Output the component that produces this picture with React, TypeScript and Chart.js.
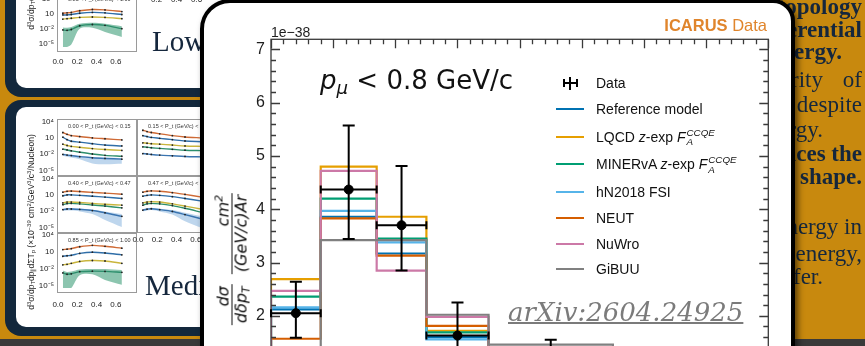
import React, { useEffect, useRef } from "react";
import { Chart, registerables } from "chart.js";

Chart.register(...registerables);

// ---------------- Main chart data ----------------
const binEdges = [0, 0.08, 0.17, 0.25, 0.35, 0.55, 0.8];
const binCenters = [0.04, 0.125, 0.21, 0.3, 0.45, 0.675];
const dataValues = [2.05, 4.37, 3.7, 1.63, 1.12, 0.55];
const dataErrLow = [1.59, 3.44, 2.85, 1.02, 0.7, 0.3];
const dataErrHigh = [2.64, 5.57, 4.81, 2.25, 1.55, 0.8];

const referenceModel = [2.12, 3.86, 3.17, 1.6, 1.22, 0.5];
const lqcdZexp = [2.69, 4.8, 3.86, 1.72, 1.3, 0.52];
const minervaZexp = [2.36, 4.2, 3.45, 1.69, 1.28, 0.5];
const hN2018Fsi = [2.16, 3.97, 3.38, 1.56, 1.2, 0.48];
const neut = [1.57, 3.83, 3.13, 1.81, 1.35, 0.55];
const nuwro = [2.47, 4.72, 2.85, 1.98, 1.36, 0.56];
const gibuu = [1.3, 3.42, 3.42, 2.02, 1.46, 0.6];

const modelNames = [
  "Reference model",
  "LQCD z-exp F_A^CCQE",
  "MINERvA z-exp F_A^CCQE",
  "hN2018 FSI",
  "NEUT",
  "NuWro",
  "GiBUU",
];
const modelSeries = [referenceModel, lqcdZexp, minervaZexp, hN2018Fsi, neut, nuwro, gibuu];

const yTickValues = [0, 1, 2, 3, 4, 5, 6, 7];
const xTickValues = [0, 0.1, 0.2, 0.3, 0.4, 0.5, 0.6, 0.7, 0.8];

// ---------------- Thumbnail data (log10 units) ----------------
const thumbX = [0, 0.05, 0.1, 0.2, 0.35, 0.5, 0.7];
const thumbYTicks = [4, 1, -2, -5];
const thumbYTickLabels = ["10⁴", "10", "10⁻²", "10⁻⁵"];
const thumbXTicks = [0, 0.2, 0.4, 0.6];
const thumbXTickLabels = ["0.0", "0.2", "0.4", "0.6"];

const thumbA = [
  [1.5, 1.6, 1.7, 2.1, 2.4, 2.3, 1.9],
  [1.1, 1.1, 1.2, 1.5, 1.7, 1.6, 1.2],
  [0.1, 0.2, 0.3, 0.5, 0.6, 0.5, 0.2],
  [-2.5, -2.6, -2.4, -1.5, -1.2, -1.4, -2.2],
];
const thumbABandUpper = [-1.9, -2.0, -1.8, -1.0, -0.8, -1.0, -1.6];
const thumbABandLower = [-6.6, -6.6, -6.0, -2.2, -2.0, -3.0, -4.2];

const thumbB1 = [
  [2.6, 2.2, 1.9, 1.7, 1.4, 1.2, 0.95],
  [1.55, 1.0, 0.65, 0.45, 0.1, -0.2, -0.4],
  [0.0, -0.3, -0.5, -0.7, -1.0, -1.2, -1.4],
  [-1.1, -1.3, -1.5, -1.8, -2.2, -2.5, -2.7],
  [-2.3, -2.45, -2.55, -2.8, -3.05, -3.2, -3.35],
];
const thumbB1BandUpper = [-2.1, -2.25, -2.35, -2.6, -2.85, -3.0, -3.15];
const thumbB1BandLower = [-2.6, -2.8, -3.0, -3.4, -4.3, -4.5, -4.4];

const thumbB2 = [
  [3.1, 2.8, 2.6, 2.3, 1.9, 1.6, 1.4],
  [1.9, 1.7, 1.5, 1.3, 1.0, 0.7, 0.55],
  [0.3, 0.2, 0.1, 0.0, -0.2, -0.4, -0.5],
  [-0.6, -0.7, -0.8, -0.95, -1.15, -1.35, -1.45],
  [-2.1, -2.2, -2.3, -2.45, -2.6, -2.75, -2.85],
];

const thumbB3 = [
  [2.0, 2.2, 2.25, 2.15, 1.95, 1.8, 1.55],
  [1.2, 1.4, 1.4, 1.3, 1.1, 0.9, 0.6],
  [-0.4, -0.2, -0.2, -0.3, -0.5, -0.7, -0.9],
  [-0.8, -0.55, -0.5, -0.6, -0.85, -1.1, -1.5],
  [-1.9, -1.75, -1.75, -1.85, -2.1, -2.6, -3.4],
];
const thumbB3BandUpper = [-1.7, -1.55, -1.55, -1.65, -1.9, -2.3, -2.9];
const thumbB3BandLower = [-2.2, -2.1, -2.1, -2.3, -2.9, -4.2, -5.8];

const thumbB4 = [
  [2.0, 2.2, 2.3, 2.2, 1.9, 1.5, 0.9],
  [1.1, 1.3, 1.4, 1.3, 1.0, 0.6, 0.0],
  [-0.4, -0.2, -0.1, -0.2, -0.6, -1.1, -1.8],
  [-0.9, -0.6, -0.5, -0.6, -1.0, -1.6, -2.5],
  [-2.0, -1.8, -1.7, -1.9, -2.3, -3.0, -4.0],
];
const thumbB4BandUpper = [-1.8, -1.6, -1.5, -1.7, -2.0, -2.6, -3.4];
const thumbB4BandLower = [-2.3, -2.1, -2.0, -2.3, -3.0, -4.5, -6.0];

const thumbB5 = [
  [1.9, 2.0, 2.1, 2.5, 2.8, 2.6, 2.2],
  [0.5, 0.6, 0.7, 1.1, 1.35, 1.2, 0.8],
  [-1.3, -1.2, -1.0, -0.6, -0.4, -0.5, -1.0],
  [-3.0, -3.3, -3.2, -2.75, -2.65, -2.7, -2.9],
];
const thumbB5BandUpper = [-2.5, -2.8, -2.7, -2.3, -2.2, -2.2, -2.4];
const thumbB5BandLower = [-6.2, -6.2, -6.2, -3.5, -3.3, -4.5, -5.5];

// ---------------- Styles ----------------
const NAVY = "#13283c";
const ORANGE = "#c8890e";
const TEXT_NAVY = "#15273d";
const modelColors = ["#0072b2", "#e69f00", "#009e73", "#56b4e9", "#d55e00", "#cc79a7", "#808080"];
const thumbColors = ["#cf6a35", "#2f6ea8", "#c9b53c", "#2d8f6c", "#3a74b0"];
const BLUE_BAND = "rgba(110,165,215,0.45)";
const GREEN_BAND = "rgba(45,150,110,0.55)";

// chart area geometry (page pixels)
const CANVAS_W = 865;
const CANVAS_H = 480;
const AREA_LEFT = 271;
const AREA_TOP = 39.3;
const AREA_RIGHT = 768.3;
const AREA_BOTTOM = 422.4;
const Y_AXIS_W = 40;

const frameTicksPlugin = {
  id: "frameTicks",
  afterDatasetsDraw(chart: any) {
    const { ctx, chartArea: a } = chart;
    const xs = chart.scales.x;
    const ys = chart.scales.y;
    ctx.save();
    ctx.strokeStyle = "#3a3a3a";
    ctx.lineWidth = 1.3;
    ctx.strokeRect(a.left, a.top, a.right - a.left, a.bottom - a.top);
    ctx.beginPath();
    yTickValues.forEach((v0) => {
      for (let k = 0; k < 5; k++) {
        const v = v0 + k * 0.2;
        if (v > ys.max + 1e-9) break;
        const py = Math.round(ys.getPixelForValue(v)) + 0.5;
        const len = k === 0 ? 9 : 5;
        ctx.moveTo(a.left, py);
        ctx.lineTo(a.left + len, py);
        ctx.moveTo(a.right, py);
        ctx.lineTo(a.right - len, py);
      }
    });
    xTickValues.forEach((v0) => {
      for (let k = 0; k < 5; k++) {
        const v = v0 + k * 0.02;
        if (v > xs.max + 1e-9) break;
        const px = Math.round(xs.getPixelForValue(v)) + 0.5;
        const len = k === 0 ? 9 : 5;
        ctx.moveTo(px, a.top);
        ctx.lineTo(px, a.top + len);
        ctx.moveTo(px, a.bottom);
        ctx.lineTo(px, a.bottom - len);
      }
    });
    ctx.stroke();
    ctx.restore();
  },
};

const errorBarPlugin = {
  id: "errorBars",
  afterDatasetsDraw(chart: any) {
    const { ctx } = chart;
    const xs = chart.scales.x;
    const ys = chart.scales.y;
    ctx.save();
    ctx.strokeStyle = "#000";
    ctx.lineWidth = 2;
    ctx.beginPath();
    dataValues.forEach((v, i) => {
      const px = xs.getPixelForValue(binCenters[i]);
      const xl = xs.getPixelForValue(binEdges[i]);
      const xr = xs.getPixelForValue(binEdges[i + 1]);
      const py = ys.getPixelForValue(v);
      const pl = ys.getPixelForValue(dataErrLow[i]);
      const ph = ys.getPixelForValue(dataErrHigh[i]);
      ctx.moveTo(xl, py);
      ctx.lineTo(xr, py);
      ctx.moveTo(px, ph);
      ctx.lineTo(px, pl);
      ctx.moveTo(px - 6, ph);
      ctx.lineTo(px + 6, ph);
      ctx.moveTo(px - 6, pl);
      ctx.lineTo(px + 6, pl);
      ctx.moveTo(xl, py - 4);
      ctx.lineTo(xl, py + 4);
      ctx.moveTo(xr, py - 4);
      ctx.lineTo(xr, py + 4);
    });
    ctx.stroke();
    ctx.restore();
  },
};

function stepPoints(vals: number[]) {
  const pts: { x: number; y: number }[] = [{ x: binEdges[0], y: 0 }];
  vals.forEach((v, i) => pts.push({ x: binEdges[i], y: v }));
  pts.push({ x: binEdges[binEdges.length - 1], y: vals[vals.length - 1] });
  pts.push({ x: binEdges[binEdges.length - 1], y: 0 });
  return pts;
}

function MainChart() {
  const ref = useRef<HTMLCanvasElement | null>(null);
  useEffect(() => {
    if (!ref.current) return;
    const datasets: any[] = [
      {
        type: "scatter",
        label: "Data",
        data: binCenters.map((x, i) => ({ x, y: dataValues[i] })),
        pointRadius: 4.5,
        pointBackgroundColor: "#000",
        pointBorderColor: "#000",
        showLine: false,
        order: 0,
      },
    ];
    modelSeries.forEach((vals, i) => {
      datasets.push({
        type: "line",
        label: modelNames[i],
        data: stepPoints(vals),
        stepped: "before",
        borderColor: modelColors[i],
        borderWidth: 2.2,
        pointRadius: 0,
        fill: false,
        order: modelSeries.length - i,
      });
    });
    const chart = new Chart(ref.current, {
      type: "line",
      data: { datasets },
      options: {
        responsive: false,
        animation: false,
        devicePixelRatio: 1,
        layout: {
          padding: {
            left: AREA_LEFT - Y_AXIS_W,
            top: AREA_TOP,
            right: CANVAS_W - AREA_RIGHT,
            bottom: CANVAS_H - AREA_BOTTOM,
          },
        },
        plugins: { legend: { display: false }, tooltip: { enabled: false } },
        scales: {
          x: { type: "linear", min: 0, max: 0.8, display: false },
          y: {
            type: "linear",
            min: 0,
            max: 7.19,
            afterFit: (s: any) => {
              s.width = Y_AXIS_W;
            },
            afterBuildTicks: (s: any) => {
              s.ticks = yTickValues.map((v) => ({ value: v }));
            },
            grid: { display: false, drawTicks: false },
            border: { display: false },
            ticks: {
              padding: 6,
              color: "#1e1e1e",
              font: { family: "Liberation Sans", size: 16 },
            },
          },
        },
      } as any,
      plugins: [frameTicksPlugin, errorBarPlugin],
    });
    return () => chart.destroy();
  }, []);
  return (
    <canvas
      ref={ref}
      width={CANVAS_W}
      height={CANVAS_H}
      style={{ position: "absolute", left: 0, top: 0, zIndex: 2 }}
    />
  );
}

type ThumbSpec = {
  left: number;
  top: number;
  w: number;
  h: number;
  yMin: number;
  yMax: number;
  lines: number[][];
  bands?: { upper: number[]; lower: number[]; color: string }[];
  title: string;
  yLabels?: boolean;
  xLabelsDy?: number;
};

const X_MIN = -0.01;
const X_MAX = 0.82;

function MiniChart({ spec }: { spec: ThumbSpec }) {
  const ref = useRef<HTMLCanvasElement | null>(null);
  useEffect(() => {
    if (!ref.current) return;
    const datasets: any[] = [];
    (spec.bands || []).forEach((b) => {
      datasets.push({
        data: thumbX.map((x, i) => ({ x, y: b.upper[i] })),
        borderWidth: 0,
        pointRadius: 0,
        fill: "+1",
        backgroundColor: b.color,
        tension: 0.3,
        order: 10,
      });
      datasets.push({
        data: thumbX.map((x, i) => ({ x, y: b.lower[i] })),
        borderWidth: 0,
        pointRadius: 0,
        fill: false,
        tension: 0.3,
        order: 10,
      });
    });
    spec.lines.forEach((ln, i) => {
      datasets.push({
        data: thumbX.map((x, j) => ({ x, y: ln[j] })),
        borderColor: thumbColors[i],
        borderWidth: 1.4,
        pointRadius: 0.9,
        pointBorderWidth: 0,
        pointBackgroundColor: "#222",
        tension: 0.3,
        fill: false,
        order: 1,
      });
    });
    const chart = new Chart(ref.current, {
      type: "line",
      data: { datasets },
      options: {
        responsive: false,
        animation: false,
        devicePixelRatio: 1,
        layout: { padding: 0 },
        plugins: { legend: { display: false }, tooltip: { enabled: false } },
        scales: {
          x: { type: "linear", min: X_MIN, max: X_MAX, display: false },
          y: { type: "linear", min: spec.yMin, max: spec.yMax, display: false },
        },
      } as any,
    });
    return () => chart.destroy();
  }, []);
  return (
    <div
      style={{
        position: "absolute",
        left: spec.left,
        top: spec.top,
        width: spec.w,
        height: spec.h,
        boxSizing: "border-box",
        border: "1px solid #9a9a9a",
        background: "#fff",
        overflow: "hidden",
      }}
    >
      <canvas ref={ref} width={spec.w - 2} height={spec.h - 2} style={{ display: "block" }} />
      <div
        style={{
          position: "absolute",
          left: 10,
          top: 6,
          fontSize: 5.5,
          lineHeight: 0,
          whiteSpace: "nowrap",
          color: "#333",
          fontFamily: "Liberation Sans",
        }}
      >
        {spec.title}
      </div>
    </div>
  );
}

function ThumbLabels({ spec }: { spec: ThumbSpec }) {
  const out: React.ReactNode[] = [];
  if (spec.yLabels) {
    thumbYTicks.forEach((v, i) => {
      const y = spec.top + ((spec.yMax - v) / (spec.yMax - spec.yMin)) * spec.h;
      out.push(
        <div
          key={"y" + i}
          style={{
            position: "absolute",
            right: 865 - (spec.left - 3),
            top: y,
            fontSize: 8,
            lineHeight: 0,
            fontFamily: "Liberation Sans",
            color: "#222",
            whiteSpace: "nowrap",
          }}
        >
          {thumbYTickLabels[i]}
        </div>
      );
    });
  }
  if (spec.xLabelsDy !== undefined) {
    thumbXTicks.forEach((v, i) => {
      const x = spec.left + ((v - X_MIN) / (X_MAX - X_MIN)) * spec.w;
      out.push(
        <div
          key={"x" + i}
          style={{
            position: "absolute",
            left: x,
            top: spec.top + spec.h + (spec.xLabelsDy as number),
            transform: "translateX(-50%)",
            fontSize: 8,
            lineHeight: 0,
            fontFamily: "Liberation Sans",
            color: "#222",
            whiteSpace: "nowrap",
          }}
        >
          {thumbXTickLabels[i]}
        </div>
      );
    });
  }
  return <>{out}</>;
}

const thumbs: ThumbSpec[] = [
  {
    left: 57, top: -8, w: 80, h: 60, yMin: -6.6, yMax: 5.4, lines: thumbA,
    bands: [{ upper: thumbABandUpper, lower: thumbABandLower, color: GREEN_BAND }],
    title: "0.85 < P_t (GeV/c) < 1.00", yLabels: true, xLabelsDy: 10,
  },
  {
    left: 57, top: 119, w: 80, h: 57, yMin: -6, yMax: 4.5, lines: thumbB1,
    bands: [{ upper: thumbB1BandUpper, lower: thumbB1BandLower, color: BLUE_BAND }],
    title: "0.00 < P_t (GeV/c) < 0.15", yLabels: true,
  },
  {
    left: 137, top: 119, w: 80, h: 57, yMin: -6, yMax: 4.5, lines: thumbB2,
    title: "0.15 < P_t (GeV/c) < 0.22",
  },
  {
    left: 57, top: 176, w: 80, h: 57, yMin: -6, yMax: 4.5, lines: thumbB3,
    bands: [{ upper: thumbB3BandUpper, lower: thumbB3BandLower, color: BLUE_BAND }],
    title: "0.40 < P_t (GeV/c) < 0.47", yLabels: true,
  },
  {
    left: 137, top: 176, w: 80, h: 57, yMin: -6, yMax: 4.5, lines: thumbB4,
    bands: [{ upper: thumbB4BandUpper, lower: thumbB4BandLower, color: BLUE_BAND }],
    title: "0.47 < P_t (GeV/c) < 0.55", xLabelsDy: 7,
  },
  {
    left: 57, top: 233, w: 80, h: 60, yMin: -6.2, yMax: 4.35, lines: thumbB5,
    bands: [{ upper: thumbB5BandUpper, lower: thumbB5BandLower, color: GREEN_BAND }],
    title: "0.85 < P_t (GeV/c) < 1.00", yLabels: true, xLabelsDy: 12,
  },
];

// ---------------- Text helpers ----------------
function Txt(props: {
  x?: number;
  right?: number;
  y: number;
  size: number;
  family?: string;
  color?: string;
  bold?: boolean;
  italic?: boolean;
  z?: number;
  style?: React.CSSProperties;
  children: React.ReactNode;
}) {
  const { x, right, y, size, family = "Liberation Sans", color = "#111", bold, italic, z = 3, style, children } = props;
  return (
    <div
      style={{
        position: "absolute",
        left: x,
        right,
        top: y,
        fontSize: size,
        fontFamily: family,
        color,
        fontWeight: bold ? 700 : 400,
        fontStyle: italic ? "italic" : "normal",
        lineHeight: 0,
        whiteSpace: "nowrap",
        zIndex: z,
        ...style,
      }}
    >
      {children}
    </div>
  );
}

const Sub = ({ children }: { children: React.ReactNode }) => (
  <span style={{ fontSize: "0.7em", verticalAlign: "-0.28em", lineHeight: 0 }}>{children}</span>
);
const Sup = ({ children }: { children: React.ReactNode }) => (
  <span style={{ fontSize: "0.7em", verticalAlign: "0.45em", lineHeight: 0 }}>{children}</span>
);

function FormatLabel({ name }: { name: string }) {
  const suffix = " z-exp F_A^CCQE";
  if (name.endsWith(suffix)) {
    const prefix = name.slice(0, -suffix.length);
    return (
      <span>
        {prefix} <i>z</i>-exp <i>F</i>
        <span
          style={{
            display: "inline-block",
            position: "relative",
            width: "2.2em",
            height: 0,
            fontSize: "0.7em",
            fontStyle: "italic",
          }}
        >
          <span style={{ position: "absolute", left: 1, top: "-0.9em", lineHeight: 0 }}>CCQE</span>
          <span style={{ position: "absolute", left: 1, top: "0.05em", lineHeight: 0 }}>A</span>
        </span>
      </span>
    );
  }
  return <span>{name}</span>;
}

function Frac({ num, den }: { num: React.ReactNode; den: React.ReactNode }) {
  return (
    <span
      style={{
        display: "inline-flex",
        flexDirection: "column",
        alignItems: "center",
        lineHeight: "15px",
      }}
    >
      <span style={{ padding: "0 2px", alignSelf: "flex-end" }}>{num}</span>
      <span style={{ alignSelf: "stretch", borderTop: "1.3px solid #111", margin: "1px 0" }} />
      <span style={{ padding: "0 2px" }}>{den}</span>
    </span>
  );
}

const legendRowY = [109, 136.7, 164.3, 192, 218.3, 244.3, 269.3];

const rightLines: { text: string; bold: boolean; baseline: number; right: number }[] = [
  { text: "topology", bold: true, baseline: 15, right: 3 },
  { text: "differential", bold: true, baseline: 38, right: 3 },
  { text: "energy.", bold: true, baseline: 60, right: 23 },
  { text: "similarity", bold: false, baseline: 88, right: 42 },
  { text: "of", bold: false, baseline: 88, right: 3 },
  { text: "despite", bold: false, baseline: 113, right: 3 },
  { text: "energy.", bold: false, baseline: 138, right: 42 },
  { text: "reproduces the", bold: true, baseline: 162, right: 3 },
  { text: "shape.", bold: true, baseline: 185, right: 3 },
  { text: "energy in", bold: false, baseline: 235, right: 3 },
  { text: "energy,", bold: false, baseline: 262, right: 3 },
  { text: "transfer.", bold: false, baseline: 285, right: 42 },
];

const thumbAxisLabel = (
  <>
    d<Sup>3</Sup>σ/dp<Sub>T</Sub>dp<Sub>∥</Sub>dΣT<Sub>p</Sub> (×10<Sup>−39</Sup> cm<Sup>2</Sup>/GeV<Sup>3</Sup>/c
    <Sup>3</Sup>/Nucleon)
  </>
);

export default function App() {
  return (
    <div
      style={{
        position: "fixed",
        left: 0,
        top: 0,
        width: 865,
        height: 346,
        overflow: "hidden",
        background: ORANGE,
        fontFamily: "Liberation Sans",
      }}
    >
      {/* slide background */}
      <div style={{ position: "absolute", left: 0, top: 339, width: 865, height: 10, background: "#3a3a3a" }} />
      <div style={{ position: "absolute", left: 5, top: -40, width: 420, height: 137, background: NAVY, borderRadius: 16 }} />
      <div style={{ position: "absolute", left: 16, top: -40, width: 400, height: 128, background: "#fff", borderRadius: 10 }} />
      <div style={{ position: "absolute", left: 5, top: 100, width: 420, height: 236, background: NAVY, borderRadius: 16 }} />
      <div style={{ position: "absolute", left: 16, top: 107, width: 400, height: 220, background: "#fff", borderRadius: 10 }} />

      {thumbs.map((t, i) => (
        <MiniChart key={i} spec={t} />
      ))}
      {thumbs.map((t, i) => (
        <ThumbLabels key={"l" + i} spec={t} />
      ))}
      {["0.2", "0.4", "0.6"].map((s, i) => (
        <Txt key={s} x={151 + i * 20} y={0} size={8} color="#222" z={0}>
          {s}
        </Txt>
      ))}
      <div
        style={{
          position: "absolute",
          left: 31,
          top: 222,
          transform: "translate(-50%,-50%) rotate(-90deg)",
          fontSize: 8.5,
          lineHeight: 0,
          whiteSpace: "nowrap",
          color: "#222",
          fontFamily: "Liberation Sans",
        }}
      >
        {thumbAxisLabel}
      </div>
      <div
        style={{
          position: "absolute",
          left: 31,
          top: -58,
          transform: "translate(-50%,-50%) rotate(-90deg)",
          fontSize: 8.5,
          lineHeight: 0,
          whiteSpace: "nowrap",
          color: "#222",
          fontFamily: "Liberation Sans",
        }}
      >
        {thumbAxisLabel}
      </div>
      <Txt x={152} y={41} size={29} family="Liberation Serif" color={TEXT_NAVY} z={0}>
        Low Energy
      </Txt>
      <Txt x={145} y={285} size={29} family="Liberation Serif" color={TEXT_NAVY} z={0}>
        Medium Energy
      </Txt>

      {/* right side slide text */}
      {rightLines.map((l, i) => (
        <Txt
          key={i}
          right={l.right}
          y={l.baseline - 8}
          size={23}
          family="Liberation Serif"
          color={TEXT_NAVY}
          bold={l.bold}
          z={0}
        >
          {l.text}
        </Txt>
      ))}

      {/* card */}
      <div
        style={{
          position: "absolute",
          left: 200,
          top: -1,
          width: 595,
          height: 420,
          boxSizing: "border-box",
          border: "4.5px solid #000",
          borderRadius: "30px 22px 0 0",
          background: "#fff",
          boxShadow: "3px 3px 6px rgba(0,0,0,0.55)",
          zIndex: 1,
        }}
      />

      <MainChart />

      {/* chart annotations */}
      <Txt x={271} y={32} size={14} color="#1e1e1e">
        1e−38
      </Txt>
      <Txt right={865 - 767} y={25} size={16.5} color="#e0852c">
        <b>ICARUS</b> Data
      </Txt>
      <Txt x={320} y={80} size={26} family="DejaVu Sans" color="#111">
        <i>p</i>
        <span style={{ fontSize: "0.7em", verticalAlign: "-0.3em", fontStyle: "italic" }}>μ</span> &lt; 0.8 GeV/c
      </Txt>

      {/* y axis title */}
      <div
        style={{
          position: "absolute",
          left: 232,
          top: 259,
          transform: "translate(-50%,-50%) rotate(-90deg)",
          display: "flex",
          alignItems: "center",
          gap: 10,
          fontFamily: "DejaVu Sans",
          fontStyle: "italic",
          fontSize: 16,
          whiteSpace: "nowrap",
          color: "#111",
          zIndex: 3,
        }}
      >
        <Frac
          num={<>dσ</>}
          den={
            <>
              dδp<span style={{ fontSize: "0.7em", verticalAlign: "-0.25em", lineHeight: 0 }}>T</span>
            </>
          }
        />
        <Frac
          num={
            <>
              cm<span style={{ fontSize: "0.7em", verticalAlign: "0.5em", lineHeight: 0 }}>2</span>
            </>
          }
          den={<>(GeV/c)Ar</>}
        />
      </div>

      {/* legend */}
      <div style={{ position: "absolute", left: 563, top: 82, width: 14, height: 2, background: "#000", zIndex: 3 }} />
      <div style={{ position: "absolute", left: 569, top: 76.5, width: 2, height: 13, background: "#000", zIndex: 3 }} />
      <div style={{ position: "absolute", left: 563, top: 79, width: 1.5, height: 8, background: "#000", zIndex: 3 }} />
      <div style={{ position: "absolute", left: 576, top: 79, width: 1.5, height: 8, background: "#000", zIndex: 3 }} />
      <Txt x={596} y={82.7} size={14}>
        Data
      </Txt>
      {modelNames.map((n, i) => (
        <React.Fragment key={n}>
          <div
            style={{
              position: "absolute",
              left: 556,
              top: legendRowY[i] - 1,
              width: 28,
              height: 2,
              background: modelColors[i],
              zIndex: 3,
            }}
          />
          <Txt x={596} y={legendRowY[i]} size={14}>
            <FormatLabel name={n} />
          </Txt>
        </React.Fragment>
      ))}

      <Txt
        x={508}
        y={312}
        size={26}
        family="DejaVu Serif"
        italic
        color="#7b7b7b"
        style={{ textDecoration: "underline", textDecorationThickness: "1.5px" }}
      >
        arXiv:2604.24925
      </Txt>
    </div>
  );
}
